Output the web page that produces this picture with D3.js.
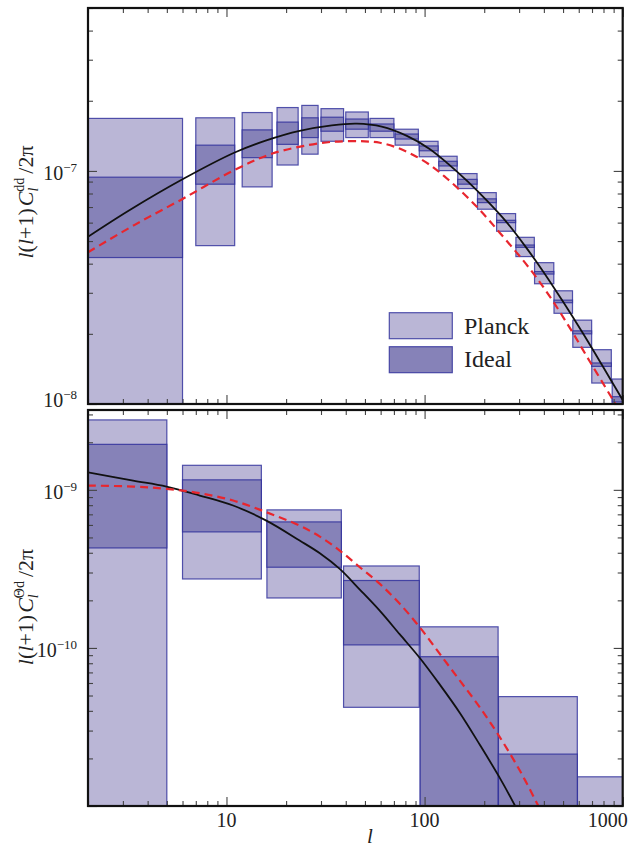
<!DOCTYPE html>
<html>
<head>
<meta charset="utf-8">
<script src="https://cdn.jsdelivr.net/npm/d3@7"></script>
<style>
  body { margin: 0; background: #fff; }
  svg { display: block; }
</style>
</head>
<body>
<div id="chart"></div>
<script>
// ---- upper panel: lensing deflection power, binned error boxes ----
const ddBinLo    = [2, 7, 12, 18, 24, 30, 40, 53, 71, 94, 118, 147, 185, 231, 289, 359, 450, 560, 698, 885];
const ddBinHi    = [6, 11, 17, 23, 29, 39, 52, 70, 93, 117, 146, 184, 230, 288, 358, 449, 558, 697, 876, 1100];
const ddPlanckLo = [5e-9, 4.78e-8, 8.54e-8, 1.06e-7, 1.18e-7, 1.34e-7, 1.39e-7, 1.39e-7, 1.29e-7, 1.15e-7, 1.003e-7, 8.4e-8, 6.85e-8, 5.51e-8, 4.29e-8, 3.28e-8, 2.45e-8, 1.75e-8, 1.23e-8, 5e-9];
const ddPlanckHi = [1.68e-7, 1.69e-7, 1.78e-7, 1.87e-7, 1.91e-7, 1.85e-7, 1.79e-7, 1.68e-7, 1.51e-7, 1.34e-7, 1.156e-7, 9.74e-8, 8.07e-8, 6.56e-8, 5.19e-8, 4.04e-8, 3.06e-8, 2.29e-8, 1.71e-8, 1.28e-8];
const ddIdealLo  = [4.25e-8, 8.77e-8, 1.14e-7, 1.30e-7, 1.39e-7, 1.48e-7, 1.51e-7, 1.48e-7, 1.37e-7, 1.22e-7, 1.05e-7, 8.77e-8, 7.31e-8, 6.0e-8, 4.70e-8, 3.61e-8, 2.72e-8, 2.0e-8, 1.45e-8, 1.02e-8];
const ddIdealHi  = [9.4e-8, 1.29e-7, 1.50e-7, 1.62e-7, 1.69e-7, 1.70e-7, 1.67e-7, 1.59e-7, 1.44e-7, 1.28e-7, 1.10e-7, 9.2e-8, 7.59e-8, 6.14e-8, 4.81e-8, 3.70e-8, 2.79e-8, 2.06e-8, 1.50e-8, 1.075e-8];

// theory curves (solid black, dashed red)
const ddSolidL = [2, 3.25, 6, 11, 15.9, 23.4, 34, 45.5, 60.8, 81.4, 105.1, 131.1, 165.4, 206.4, 257.4, 321, 400.5, 499.4, 625.2, 786.1, 1000];
const ddSolidV = [5.22e-8, 6.8e-8, 9.21e-8, 1.20e-7, 1.352e-7, 1.485e-7, 1.568e-7, 1.595e-7, 1.548e-7, 1.413e-7, 1.249e-7, 1.075e-7, 8.99e-8, 7.45e-8, 6.07e-8, 4.77e-8, 3.66e-8, 2.75e-8, 2.03e-8, 1.47e-8, 1.04e-8];
const ddDashL  = [2, 3.44, 6, 11, 17.2, 29.6, 39.6, 49.9, 59.5, 72.2, 87.6, 106.4, 129.2, 156.7, 190, 240, 340, 430, 541, 680, 863, 925, 1000];
const ddDashV  = [4.48e-8, 5.87e-8, 7.58e-8, 1.01e-7, 1.19e-7, 1.315e-7, 1.341e-7, 1.339e-7, 1.321e-7, 1.261e-7, 1.171e-7, 1.061e-7, 9.30e-8, 8.02e-8, 6.80e-8, 5.42e-8, 3.80e-8, 2.88e-8, 2.12e-8, 1.53e-8, 1.093e-8, 9.9e-9, 9.0e-9];

// ---- lower panel: temperature-deflection cross power ----
const tdBinLo    = [2, 6, 16, 39, 95, 236, 591];
const tdBinHi    = [5, 15, 38, 94, 235, 590, 1500];
const tdPlanckLo = [5e-12, 2.73e-10, 2.07e-10, 4.21e-11, 5e-12, 5e-12, 5e-12];
const tdPlanckHi = [2.77e-9, 1.43e-9, 7.47e-10, 3.30e-10, 1.36e-10, 4.92e-11, 1.53e-11];
const tdIdealLo  = [4.29e-10, 5.42e-10, 3.24e-10, 1.045e-10, 5e-12, 5e-12, null];
const tdIdealHi  = [1.94e-9, 1.157e-9, 6.27e-10, 2.67e-10, 8.8e-11, 2.13e-11, null];

const tdSolidL = [2, 3.38, 4.98, 7.33, 10.8, 15.9, 23.4, 29.6, 37.3, 47.1, 59.5, 75, 94.6, 119.4, 150.7, 190, 240, 286, 321];
const tdSolidV = [1.292e-9, 1.145e-9, 1.049e-9, 9.2e-10, 7.96e-10, 6.39e-10, 4.78e-10, 3.97e-10, 3.16e-10, 2.34e-10, 1.715e-10, 1.217e-10, 8.64e-11, 5.86e-11, 3.88e-11, 2.44e-11, 1.50e-11, 1.004e-11, 7.5e-12];
const tdDashL  = [2, 3.38, 4.98, 7.33, 10.8, 15.9, 23.4, 29.6, 37.3, 47.1, 59.5, 75, 94.6, 119.4, 150.7, 190, 240, 303, 368, 405];
const tdDashV  = [1.065e-9, 1.049e-9, 1.015e-9, 9.52e-10, 8.56e-10, 7.22e-10, 5.94e-10, 5.06e-10, 4.13e-10, 3.24e-10, 2.54e-10, 1.90e-10, 1.35e-10, 9.16e-11, 6.21e-11, 4.21e-11, 2.72e-11, 1.67e-11, 1.05e-11, 8.3e-12];

// axis labels
const xTickVals = [10, 100, 1000];
const xTickLabels = ["10", "100", "1000"];
const ddTickVals = [1e-8, 1e-7];
const ddTickExps = ["\u22128", "\u22127"];
const tdTickVals = [1e-10, 1e-9];
const tdTickExps = ["\u221210", "\u22129"];
const legendNames = ["Planck", "Ideal"];

const W = 641, H = 848;
const FONT = "'Liberation Serif', 'Times New Roman', Times, serif";
const left = 88, right = 622.7;
const panels = [
  { top: 8, bottom: 404, domain: [1e-8, 5e-7], id: "dd" },
  { top: 410, bottom: 806, domain: [1e-11, 3.2e-9], id: "td" }
];
const planckFill = "#bab6d6", idealFill = "#8682b8", boxStroke = "#2c2c9a";

const svg = d3.select("#chart").append("svg")
  .attr("width", W).attr("height", H)
  .attr("viewBox", "0 0 " + W + " " + H)
  .style("background", "white")
  .style("font-family", FONT);

const x = d3.scaleLog().domain([2, 1000]).range([left, right]);

const defs = svg.append("defs");
panels.forEach(p => {
  defs.append("clipPath").attr("id", "clip-" + p.id)
    .append("rect").attr("x", left).attr("y", p.top)
    .attr("width", right - left).attr("height", p.bottom - p.top);
  p.y = d3.scaleLog().domain(p.domain).range([p.bottom, p.top]);
});

function drawBoxes(g, y, lo, hi, pLo, pHi, iLo, iHi) {
  const bins = lo.map((d, i) => ({ l0: d, l1: hi[i], pLo: pLo[i], pHi: pHi[i], iLo: iLo[i], iHi: iHi[i] }));
  g.selectAll("rect.planck").data(bins).enter().append("rect")
    .attr("class", "planck")
    .attr("x", d => x(d.l0)).attr("width", d => x(d.l1) - x(d.l0))
    .attr("y", d => y(d.pHi)).attr("height", d => y(d.pLo) - y(d.pHi))
    .attr("fill", planckFill).attr("stroke", boxStroke)
    .attr("stroke-opacity", 0.8).attr("stroke-width", 1.2);
  g.selectAll("rect.ideal").data(bins.filter(d => d.iLo != null)).enter().append("rect")
    .attr("class", "ideal")
    .attr("x", d => x(d.l0)).attr("width", d => x(d.l1) - x(d.l0))
    .attr("y", d => y(d.iHi)).attr("height", d => y(d.iLo) - y(d.iHi))
    .attr("fill", idealFill).attr("stroke", boxStroke)
    .attr("stroke-opacity", 0.8).attr("stroke-width", 1.2);
}

function drawCurve(g, y, ls, vs, color, width, dash) {
  const line = d3.line().x(d => x(d[0])).y(d => y(d[1])).curve(d3.curveCatmullRom.alpha(0.5));
  g.append("path").datum(ls.map((l, i) => [l, vs[i]]))
    .attr("d", line).attr("fill", "none")
    .attr("stroke", color).attr("stroke-width", width)
    .attr("stroke-dasharray", dash);
}

function drawFrame(p) {
  const y = p.y;
  const isMajor = v => Math.abs(Math.log10(v) - Math.round(Math.log10(v))) < 1e-6;
  const xt = x.ticks(), yt = y.ticks();
  const axes = [
    [d3.axisBottom(x), "translate(0," + p.bottom + ")", xt],
    [d3.axisTop(x), "translate(0," + p.top + ")", xt],
    [d3.axisLeft(y), "translate(" + left + ",0)", yt],
    [d3.axisRight(y), "translate(" + right + ",0)", yt]
  ];
  axes.forEach(([ax, tr, ticks]) => {
    [[ticks.filter(v => !isMajor(v)), 5], [ticks.filter(isMajor), 9]].forEach(([vals, len]) => {
      const g = svg.append("g").attr("transform", tr)
        .call(ax.tickValues(vals).tickSize(-len).tickFormat(""));
      g.select(".domain").remove();
      g.selectAll(".tick line").attr("stroke", "#444").attr("stroke-width", 1.1);
    });
  });
  svg.append("rect").attr("x", left).attr("y", p.top)
    .attr("width", right - left).attr("height", p.bottom - p.top)
    .attr("fill", "none").attr("stroke", "#111").attr("stroke-width", 2.2);
}

function yTickLabels(p, vals, exps) {
  vals.forEach((v, i) => {
    const t = svg.append("text")
      .attr("x", 77).attr("y", Math.min(p.y(v) + 9, p.bottom + 3))
      .attr("text-anchor", "end").attr("font-size", 20).attr("fill", "#222");
    t.append("tspan").text("10");
    t.append("tspan").attr("dy", -8).attr("font-size", 13).text(exps[i]);
  });
}

function yTitle(cx, cy, sup) {
  const t = svg.append("text")
    .attr("transform", "translate(" + cx + "," + cy + ") rotate(-90)")
    .attr("text-anchor", "middle").attr("font-size", 22).attr("fill", "#222");
  t.append("tspan").attr("font-style", "italic").text("l");
  t.append("tspan").text("(");
  t.append("tspan").attr("font-style", "italic").text("l");
  t.append("tspan").text("+1)");
  t.append("tspan").attr("font-style", "italic").attr("dx", 2).text("C");
  t.append("tspan").attr("font-style", "italic").attr("font-size", 14).attr("dy", 5).text("l");
  t.append("tspan").attr("font-size", 14).attr("dx", -4).attr("dy", -14).text(sup);
  t.append("tspan").attr("dx", 4).attr("dy", 9).text("/2\u03c0");
}

// upper panel
const pTop = panels[0];
const gTop = svg.append("g").attr("clip-path", "url(#clip-dd)");
drawBoxes(gTop, pTop.y, ddBinLo, ddBinHi, ddPlanckLo, ddPlanckHi, ddIdealLo, ddIdealHi);
drawCurve(gTop, pTop.y, ddSolidL, ddSolidV, "#111", 1.8, null);
drawCurve(gTop, pTop.y, ddDashL, ddDashV, "#e8262e", 2.2, "8,5");
drawFrame(pTop);
yTickLabels(pTop, ddTickVals, ddTickExps);
yTitle(33, 202, "dd");

// legend
const legend = svg.append("g");
legendNames.forEach((name, i) => {
  legend.append("rect")
    .attr("x", 389.3).attr("y", 312.7 + i * 34)
    .attr("width", 63).attr("height", 26)
    .attr("fill", i === 0 ? planckFill : idealFill)
    .attr("stroke", boxStroke).attr("stroke-opacity", 0.8).attr("stroke-width", 1.2);
  legend.append("text")
    .attr("x", 464).attr("y", 333.5 + i * 33.3)
    .attr("font-size", 24).attr("fill", "#222").text(name);
});

// lower panel
const pBot = panels[1];
const gBot = svg.append("g").attr("clip-path", "url(#clip-td)");
drawBoxes(gBot, pBot.y, tdBinLo, tdBinHi, tdPlanckLo, tdPlanckHi, tdIdealLo, tdIdealHi);
drawCurve(gBot, pBot.y, tdSolidL, tdSolidV, "#111", 1.8, null);
drawCurve(gBot, pBot.y, tdDashL, tdDashV, "#e8262e", 2.2, "8,5");
drawFrame(pBot);
yTickLabels(pBot, tdTickVals, tdTickExps);
yTitle(33, 607, "\u0398d");

// x tick labels and title
xTickVals.forEach((v, i) => {
  const last = i === xTickVals.length - 1;
  svg.append("text")
    .attr("x", last ? x(v) + 5 : x(v)).attr("y", 827)
    .attr("text-anchor", last ? "end" : "middle")
    .attr("font-size", 20).attr("fill", "#222").text(xTickLabels[i]);
});
svg.append("text")
  .attr("x", 370).attr("y", 843)
  .attr("text-anchor", "middle").attr("font-size", 21)
  .attr("font-style", "italic").attr("fill", "#222").text("l");
</script>
</body>
</html>
